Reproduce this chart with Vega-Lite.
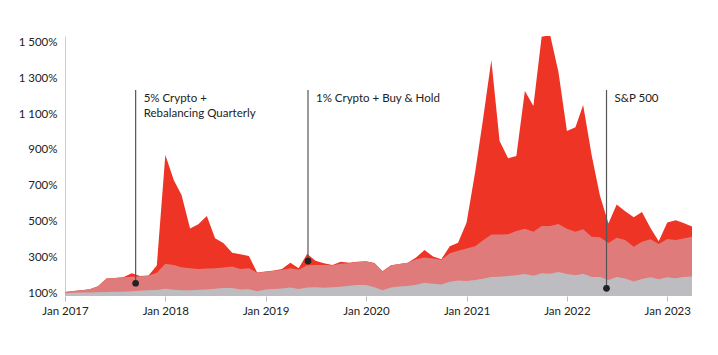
{
  "$schema": "https://vega.github.io/schema/vega-lite/v6.json",
  "width": 627,
  "height": 260,
  "autosize": {"type": "none"},
  "padding": {"left": 65, "top": 36, "right": 26, "bottom": 59},
  "background": "white",
  "config": {
    "view": {"stroke": null},
    "font": "Lato",
    "axis": {"labelFont": "Lato", "labelFontSize": 11.5, "labelColor": "#222", "grid": false, "labelOverlap": false, "labelBound": false}
  },
  "datasets": {
    "series": [
      {"date": "2017-01-01", "c5": 108, "c1": 108, "sp": 100},
      {"date": "2017-02-01", "c5": 113, "c1": 113, "sp": 103.8},
      {"date": "2017-03-01", "c5": 117, "c1": 117, "sp": 103.9},
      {"date": "2017-04-01", "c5": 122, "c1": 122, "sp": 104.9},
      {"date": "2017-05-01", "c5": 140, "c1": 140, "sp": 106.2},
      {"date": "2017-06-01", "c5": 182, "c1": 182, "sp": 106.8},
      {"date": "2017-07-01", "c5": 186, "c1": 186, "sp": 108.9},
      {"date": "2017-08-01", "c5": 189, "c1": 189, "sp": 109.1},
      {"date": "2017-09-01", "c5": 212, "c1": 192, "sp": 111.2},
      {"date": "2017-10-01", "c5": 196, "c1": 195, "sp": 113.8},
      {"date": "2017-11-01", "c5": 200, "c1": 198, "sp": 117.1},
      {"date": "2017-12-01", "c5": 255, "c1": 215, "sp": 118.3},
      {"date": "2018-01-01", "c5": 871, "c1": 265, "sp": 125.1},
      {"date": "2018-02-01", "c5": 730, "c1": 258, "sp": 120.3},
      {"date": "2018-03-01", "c5": 648, "c1": 246, "sp": 117.2},
      {"date": "2018-04-01", "c5": 462, "c1": 240, "sp": 117.6},
      {"date": "2018-05-01", "c5": 485, "c1": 236, "sp": 120.2},
      {"date": "2018-06-01", "c5": 531, "c1": 238, "sp": 120.9},
      {"date": "2018-07-01", "c5": 407, "c1": 240, "sp": 125.4},
      {"date": "2018-08-01", "c5": 379, "c1": 244, "sp": 129.2},
      {"date": "2018-09-01", "c5": 326, "c1": 250, "sp": 129.9},
      {"date": "2018-10-01", "c5": 318, "c1": 236, "sp": 121.0},
      {"date": "2018-11-01", "c5": 308, "c1": 240, "sp": 123.2},
      {"date": "2018-12-01", "c5": 216, "c1": 215, "sp": 112.0},
      {"date": "2019-01-01", "c5": 221, "c1": 220, "sp": 120.9},
      {"date": "2019-02-01", "c5": 227, "c1": 226, "sp": 124.6},
      {"date": "2019-03-01", "c5": 236, "c1": 232, "sp": 127.0},
      {"date": "2019-04-01", "c5": 271, "c1": 240, "sp": 132.1},
      {"date": "2019-05-01", "c5": 240, "c1": 232, "sp": 123.5},
      {"date": "2019-06-01", "c5": 320, "c1": 256, "sp": 132.1},
      {"date": "2019-07-01", "c5": 282, "c1": 258, "sp": 133.9},
      {"date": "2019-08-01", "c5": 268, "c1": 258, "sp": 131.6},
      {"date": "2019-09-01", "c5": 258, "c1": 256, "sp": 133.9},
      {"date": "2019-10-01", "c5": 276, "c1": 265, "sp": 136.8},
      {"date": "2019-11-01", "c5": 270, "c1": 268, "sp": 141.5},
      {"date": "2019-12-01", "c5": 276, "c1": 275, "sp": 145.8},
      {"date": "2020-01-01", "c5": 279, "c1": 278, "sp": 145.7},
      {"date": "2020-02-01", "c5": 269, "c1": 268, "sp": 133.4},
      {"date": "2020-03-01", "c5": 223, "c1": 222, "sp": 116.8},
      {"date": "2020-04-01", "c5": 256, "c1": 255, "sp": 131.8},
      {"date": "2020-05-01", "c5": 264, "c1": 263, "sp": 137.9},
      {"date": "2020-06-01", "c5": 271, "c1": 270, "sp": 140.5},
      {"date": "2020-07-01", "c5": 300, "c1": 290, "sp": 148.3},
      {"date": "2020-08-01", "c5": 341, "c1": 300, "sp": 158.9},
      {"date": "2020-09-01", "c5": 305, "c1": 294, "sp": 152.8},
      {"date": "2020-10-01", "c5": 290, "c1": 287, "sp": 148.7},
      {"date": "2020-11-01", "c5": 362, "c1": 323, "sp": 164.7},
      {"date": "2020-12-01", "c5": 382, "c1": 338, "sp": 171.0},
      {"date": "2021-01-01", "c5": 495, "c1": 350, "sp": 169.3},
      {"date": "2021-02-01", "c5": 775, "c1": 362, "sp": 173.8},
      {"date": "2021-03-01", "c5": 1063, "c1": 395, "sp": 181.3},
      {"date": "2021-04-01", "c5": 1401, "c1": 428, "sp": 191.0},
      {"date": "2021-05-01", "c5": 950, "c1": 428, "sp": 192.2},
      {"date": "2021-06-01", "c5": 853, "c1": 430, "sp": 196.6},
      {"date": "2021-07-01", "c5": 866, "c1": 448, "sp": 201.1},
      {"date": "2021-08-01", "c5": 1228, "c1": 460, "sp": 207.2},
      {"date": "2021-09-01", "c5": 1145, "c1": 444, "sp": 197.5},
      {"date": "2021-10-01", "c5": 1531, "c1": 475, "sp": 211.3},
      {"date": "2021-11-01", "c5": 1540, "c1": 475, "sp": 209.7},
      {"date": "2021-12-01", "c5": 1336, "c1": 486, "sp": 219.0},
      {"date": "2022-01-01", "c5": 1005, "c1": 460, "sp": 207.7},
      {"date": "2022-02-01", "c5": 1026, "c1": 444, "sp": 201.3},
      {"date": "2022-03-01", "c5": 1150, "c1": 457, "sp": 208.7},
      {"date": "2022-04-01", "c5": 870, "c1": 416, "sp": 190.4},
      {"date": "2022-05-01", "c5": 645, "c1": 412, "sp": 190.6},
      {"date": "2022-06-01", "c5": 490, "c1": 380, "sp": 174.7},
      {"date": "2022-07-01", "c5": 595, "c1": 410, "sp": 190.8},
      {"date": "2022-08-01", "c5": 558, "c1": 397, "sp": 182.8},
      {"date": "2022-09-01", "c5": 524, "c1": 360, "sp": 165.9},
      {"date": "2022-10-01", "c5": 553, "c1": 388, "sp": 179.3},
      {"date": "2022-11-01", "c5": 464, "c1": 401, "sp": 189.0},
      {"date": "2022-12-01", "c5": 390, "c1": 375, "sp": 178.1},
      {"date": "2023-01-01", "c5": 495, "c1": 403, "sp": 189.2},
      {"date": "2023-02-01", "c5": 507, "c1": 397, "sp": 184.4},
      {"date": "2023-03-01", "c5": 492, "c1": 405, "sp": 191.0},
      {"date": "2023-04-01", "c5": 472, "c1": 416, "sp": 193.9}
    ],
    "notes": [
      {"date": "2017-09-15", "value": 156, "top": 1234, "label": "5% Crypto +\nRebalancing Quarterly"},
      {"date": "2019-06-04", "value": 280, "top": 1234, "label": "1% Crypto + Buy & Hold"},
      {"date": "2022-05-25", "value": 128, "top": 1234, "label": "S&P 500"}
    ]
  },
  "layer": [
    {
      "data": {"name": "series"},
      "mark": {"type": "area", "color": "#EE3425", "interpolate": "linear", "clip": true},
      "encoding": {
        "x": {
          "field": "date",
          "type": "temporal",
          "title": null,
          "scale": {"type": "utc", "domain": ["2017-01-01", "2023-04-01"]},
          "axis": {"format": "%b %Y", "tickCount": "year", "domain": false, "tickColor": "#bbbbbb", "tickSize": 5, "labelPadding": 4, "labelOverlap": false, "labelFlush": false}
        },
        "y": {"field": "c5", "type": "quantitative", "title": null,
          "scale": {"domain": [85, 1535], "nice": false, "zero": false},
          "axis": {"values": [100, 300, 500, 700, 900, 1100, 1300, 1500], "tickCount": 20, "labelExpr": "replace(format(datum.value, ','), ',', ' ') + '%'", "ticks": false, "domainColor": "#cccccc", "labelPadding": 8, "labelOverlap": false}
        }
      }
    },
    {
      "data": {"name": "series"},
      "mark": {"type": "area", "color": "#E07B7B", "interpolate": "linear", "clip": true},
      "encoding": {"x": {"field": "date", "type": "temporal"}, "y": {"field": "c1", "type": "quantitative"}}
    },
    {
      "data": {"name": "series"},
      "mark": {"type": "area", "color": "#BDBDC1", "interpolate": "linear", "clip": true},
      "encoding": {"x": {"field": "date", "type": "temporal"}, "y": {"field": "sp", "type": "quantitative"}}
    },
    {
      "data": {"name": "notes"},
      "mark": {"type": "rule", "color": "#555555", "strokeWidth": 1.2},
      "encoding": {"x": {"field": "date", "type": "temporal"}, "y": {"field": "value", "type": "quantitative"}, "y2": {"field": "top"}}
    },
    {
      "data": {"name": "notes"},
      "mark": {"type": "point", "filled": true, "color": "#222222", "size": 45, "opacity": 1},
      "encoding": {"x": {"field": "date", "type": "temporal"}, "y": {"field": "value", "type": "quantitative"}}
    },
    {
      "data": {"name": "notes"},
      "mark": {"type": "text", "align": "left", "baseline": "top", "dx": 8, "dy": 3, "fontSize": 11.5, "color": "#222222", "lineBreak": "\n", "lineHeight": 15, "font": "Lato"},
      "encoding": {"x": {"field": "date", "type": "temporal"}, "y": {"field": "top", "type": "quantitative"}, "text": {"field": "label"}}
    }
  ]
}
